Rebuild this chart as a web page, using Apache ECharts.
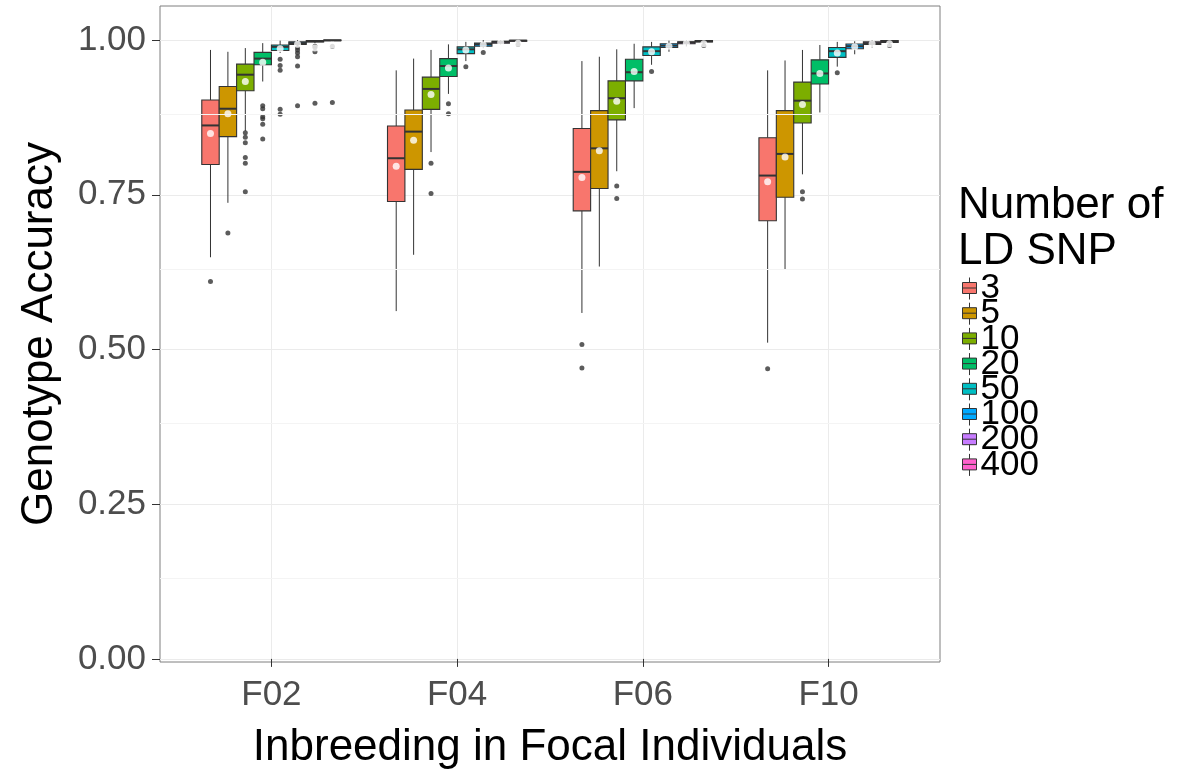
<!DOCTYPE html>
<html>
<head>
<meta charset="utf-8">
<script src="https://cdn.jsdelivr.net/npm/echarts@6/dist/echarts.min.js"></script>
<style>
  html, body { margin: 0; padding: 0; background: #ffffff; }
  #chart { width: 1178px; height: 775px; }
</style>
</head>
<body>
<div id="chart"></div>
<script>
// Inbreeding groups on the x axis
const groups = ['F02', 'F04', 'F06', 'F10'];
// Number of LD SNPs (one box per level inside every group)
const snpLevels = ['3', '5', '10', '20', '50', '100', '200', '400'];
const snpColors = ['#F8766D', '#CD9600', '#7CAE00', '#00BE67', '#00BFC4', '#00A9FF', '#C77CFF', '#FF61CC'];
const yTicks = [0, 0.25, 0.5, 0.75, 1];
const yMinorLines = [0.125, 0.375, 0.625, 0.875];

// Box statistics per group: [lower whisker, Q1, median, Q3, upper whisker]
const box3   = [[0.649, 0.799, 0.862, 0.903, 0.984], [0.562, 0.739, 0.809, 0.861, 0.951], [0.559, 0.724, 0.787, 0.857, 0.966], [0.511, 0.708, 0.781, 0.842, 0.951]];
const box5   = [[0.737, 0.844, 0.889, 0.925, 0.981], [0.653, 0.791, 0.852, 0.887, 0.970], [0.634, 0.760, 0.825, 0.886, 0.973], [0.630, 0.746, 0.816, 0.886, 0.967]];
const box10  = [[0.853, 0.918, 0.944, 0.961, 0.987], [0.819, 0.888, 0.921, 0.940, 0.984], [0.788, 0.871, 0.906, 0.934, 0.985], [0.783, 0.866, 0.902, 0.932, 0.984]];
const box20  = [[0.933, 0.960, 0.970, 0.980, 0.995], [0.913, 0.941, 0.958, 0.970, 0.993], [0.890, 0.934, 0.948, 0.969, 0.994], [0.883, 0.929, 0.946, 0.968, 0.992]];
const box50  = [[0.979, 0.983, 0.989, 0.992, 0.999], [0.966, 0.978, 0.985, 0.989, 0.997], [0.960, 0.975, 0.982, 0.989, 0.997], [0.957, 0.972, 0.982, 0.988, 0.997]];
const box100 = [[0.990, 0.993, 0.995, 0.997, 1.000], [0.987, 0.990, 0.993, 0.995, 1.000], [0.981, 0.988, 0.991, 0.994, 0.999], [0.977, 0.986, 0.990, 0.9935, 0.998]];
const box200 = [[0.995, 0.997, 0.998, 0.999, 1.000], [0.993, 0.995, 0.997, 0.998, 1.000], [0.990, 0.994, 0.996, 0.997, 1.000], [0.988, 0.993, 0.995, 0.997, 1.000]];
const box400 = [[0.998, 0.999, 0.9995, 1.000, 1.000], [0.996, 0.998, 0.999, 0.9995, 1.000], [0.994, 0.997, 0.998, 0.999, 1.000], [0.993, 0.996, 0.998, 0.999, 1.000]];

// Mean accuracy per group
const mean3   = [0.849, 0.796, 0.778, 0.771];
const mean5   = [0.881, 0.838, 0.821, 0.811];
const mean10  = [0.933, 0.912, 0.901, 0.896];
const mean20  = [0.964, 0.955, 0.949, 0.946];
const mean50  = [0.986, 0.984, 0.981, 0.979];
const mean100 = [0.993, 0.992, 0.990, 0.989];
const mean200 = [0.987, 0.996, 0.995, 0.994];
const mean400 = [0.992, 0.995, 0.994, 0.994];

// Outlying observations per group
const out3   = [[0.610], [], [0.508, 0.470], [0.469]];
const out5   = [[0.688], [], [], []];
const out10  = [[0.850, 0.843, 0.834, 0.810, 0.801, 0.755], [0.801, 0.752], [0.764, 0.744], [0.755, 0.743]];
const out20  = [[0.894, 0.889, 0.876, 0.873, 0.864, 0.840], [0.897, 0.881], [], []];
const out50  = [[0.969, 0.959, 0.951, 0.888, 0.880], [0.957], [0.949], [0.947]];
const out100 = [[0.988, 0.984, 0.979, 0.973, 0.958, 0.894], [0.980], [], []];
const out200 = [[0.990, 0.988, 0.981, 0.898], [], [], []];
const out400 = [[0.990, 0.899], [0.993], [0.991], [0.991]];

const boxStats = [box3, box5, box10, box20, box50, box100, box200, box400];
const meanStats = [mean3, mean5, mean10, mean20, mean50, mean100, mean200, mean400];
const outlierStats = [out3, out5, out10, out20, out50, out100, out200, out400];

const FONT = '"Liberation Sans", Arial, Helvetica, sans-serif';
const DODGE = 0.75;                          // total width of the dodged boxes per group
const BOX_W = DODGE / snpLevels.length;      // width of one box in axis units
const offsetOf = (li) => (li - (snpLevels.length - 1) / 2) * BOX_W;

function renderBox(levelIndex) {
  const color = snpColors[levelIndex];
  return function (params, api) {
    const x = api.value(0) + offsetOf(levelIndex);
    const lo = api.coord([x, api.value(1)]);
    const q1 = api.coord([x, api.value(2)]);
    const md = api.coord([x, api.value(3)]);
    const q3 = api.coord([x, api.value(4)]);
    const hi = api.coord([x, api.value(5)]);
    const left = api.coord([x - BOX_W / 2, api.value(3)])[0];
    const right = api.coord([x + BOX_W / 2, api.value(3)])[0];
    return {
      type: 'group',
      children: [
        { type: 'line', shape: { x1: lo[0], y1: lo[1], x2: q1[0], y2: q1[1] }, style: { stroke: '#333333', lineWidth: 1 } },
        { type: 'line', shape: { x1: q3[0], y1: q3[1], x2: hi[0], y2: hi[1] }, style: { stroke: '#333333', lineWidth: 1 } },
        { type: 'rect', shape: { x: left, y: q3[1], width: right - left, height: q1[1] - q3[1] }, style: { fill: color, stroke: '#333333', lineWidth: 1.1 } },
        { type: 'line', shape: { x1: left, y1: md[1], x2: right, y2: md[1] }, style: { stroke: '#333333', lineWidth: 2 } }
      ]
    };
  };
}

const series = [];

// faint minor grid lines underneath everything
series.push({
  type: 'line',
  name: 'minor-grid',
  data: [],
  z: 1,
  silent: true,
  markLine: {
    silent: true,
    symbol: 'none',
    label: { show: false },
    animation: false,
    lineStyle: { color: '#F4F4F4', width: 1, type: 'solid' },
    data: yMinorLines.map(v => ({ yAxis: v }))
  }
});

snpLevels.forEach((lvl, li) => {
  series.push({
    type: 'custom',
    name: lvl,
    z: 2,
    itemStyle: { color: snpColors[li] },
    renderItem: renderBox(li),
    encode: { x: 0, y: [1, 2, 3, 4, 5] },
    data: boxStats[li].map((s, gi) => [gi + 1, s[0], s[1], s[2], s[3], s[4]])
  });
});

const outlierPoints = [];
const meanPoints = [];
snpLevels.forEach((lvl, li) => {
  groups.forEach((g, gi) => {
    outlierStats[li][gi].forEach(v => outlierPoints.push([gi + 1 + offsetOf(li), v]));
    meanPoints.push([gi + 1 + offsetOf(li), meanStats[li][gi]]);
  });
});

series.push({
  type: 'scatter',
  name: 'outliers',
  z: 3,
  symbol: 'circle',
  symbolSize: 5,
  itemStyle: { color: '#333333' },
  data: outlierPoints
});
series.push({
  type: 'scatter',
  name: 'means',
  z: 4,
  symbol: 'circle',
  symbolSize: 7,
  itemStyle: { color: '#FFFFFF' },
  data: meanPoints
});

const chart = echarts.init(document.getElementById('chart'), null, { renderer: 'canvas' });
chart.setOption({
  animation: false,
  backgroundColor: '#FFFFFF',
  color: snpColors,
  textStyle: { fontFamily: FONT },
  title: {
    text: 'Number of\nLD SNP',
    left: 958,
    top: 183,
    padding: 0,
    textStyle: { fontFamily: FONT, fontSize: 44, fontWeight: 'normal', color: '#000000', lineHeight: 46 }
  },
  legend: {
    data: snpLevels,
    orient: 'vertical',
    left: 962,
    top: 271,
    padding: 0,
    itemWidth: 14,
    itemHeight: 22,
    itemGap: -9.8,
    selectedMode: false,
    icon: 'path://M7,0L7,5M0,5L14,5L14,16L0,16ZM0,10.5L14,10.5M7,16L7,22',
    itemStyle: { borderColor: '#333333', borderWidth: 1 },
    textStyle: { fontFamily: FONT, fontSize: 35, color: '#000000', padding: [0, 0, 0, -1] }
  },
  grid: {
    left: 160, right: 238, top: 6, bottom: 112,
    show: true,
    borderColor: '#7F7F7F',
    borderWidth: 1,
    backgroundColor: 'transparent'
  },
  xAxis: {
    type: 'value',
    min: 0.4,
    max: 4.6,
    name: 'Inbreeding in Focal Individuals',
    nameLocation: 'middle',
    nameGap: 64,
    nameTextStyle: { fontFamily: FONT, fontSize: 44, color: '#000000' },
    axisLine: { show: false },
    axisTick: { show: true, length: 8, customValues: [1, 2, 3, 4], lineStyle: { color: '#333333' } },
    axisLabel: {
      customValues: [1, 2, 3, 4],
      margin: 16,
      fontFamily: FONT,
      fontSize: 35,
      color: '#4D4D4D',
      formatter: v => groups[Math.round(v) - 1]
    },
    splitLine: { show: true, lineStyle: { color: '#EBEBEB', width: 1 } }
  },
  yAxis: {
    type: 'value',
    min: -0.005,
    max: 1.055,
    name: 'Genotype Accuracy',
    nameLocation: 'middle',
    nameRotate: 90,
    nameGap: 98,
    nameTextStyle: { fontFamily: FONT, fontSize: 44, color: '#000000' },
    axisLine: { show: false },
    axisTick: { show: true, length: 8, customValues: yTicks, lineStyle: { color: '#333333' } },
    axisLabel: {
      customValues: yTicks,
      margin: 14,
      fontFamily: FONT,
      fontSize: 35,
      color: '#4D4D4D',
      formatter: v => v.toFixed(2)
    },
    splitLine: { show: true, lineStyle: { color: '#EBEBEB', width: 1 } }
  },
  series: series
});
</script>
</body>
</html>
